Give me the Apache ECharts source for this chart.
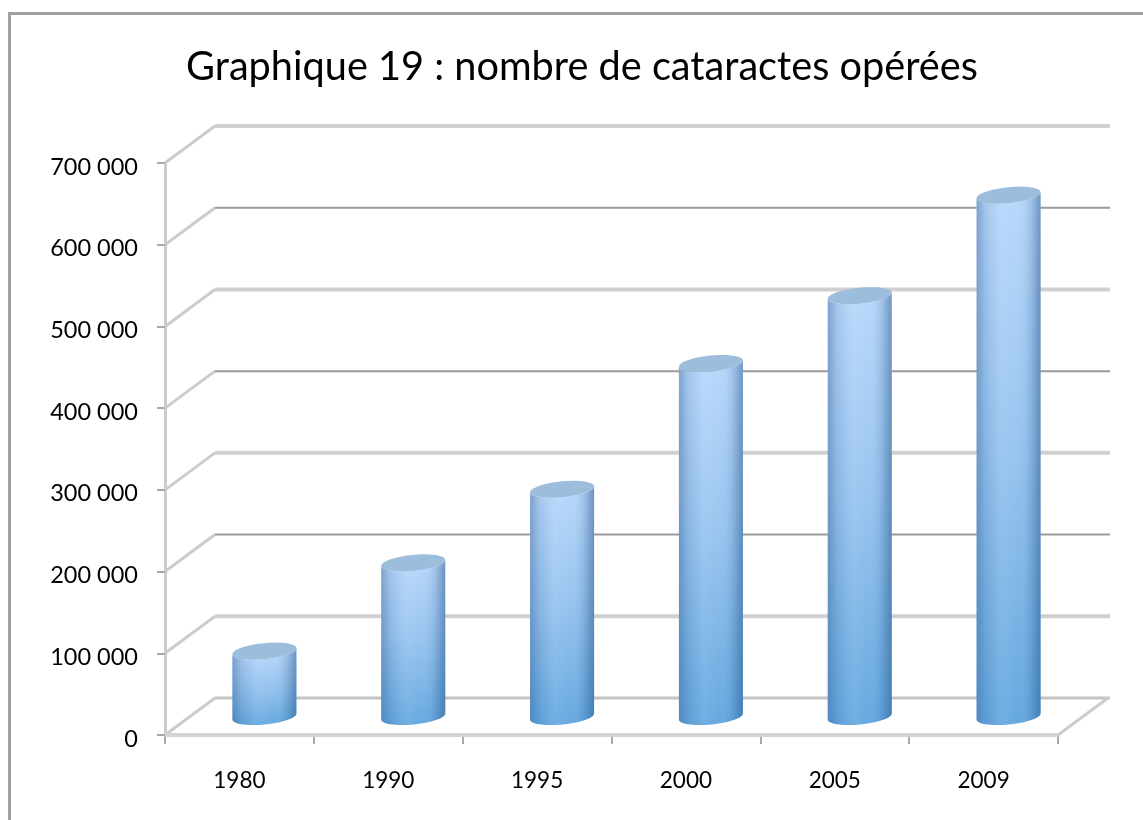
<!DOCTYPE html>
<html><head><meta charset="utf-8">
<style>html,body{margin:0;padding:0;background:#fff}#c{width:1143px;height:820px}</style>
<script src="https://cdn.jsdelivr.net/npm/echarts@6/dist/echarts.min.js"></script>
</head><body><div id="c"></div>
<script>
const titleText = 'Graphique 19 : nombre de cataractes opérées';
const categories = ['1980','1990','1995','2000','2005','2009'];
const operations = [80000,188000,278000,432000,515000,638000];
const gridValues = [0,100000,200000,300000,400000,500000,600000,700000];
const DX = 50, DY = -37;
const chart = echarts.init(document.getElementById('c'));
const font = 'Lato, Carlito, "Open Sans", sans-serif';
function renderGrid(params, api){
  const v = api.value(0);
  const p = api.coord([0, v]);
  const cs = params.coordSys;
  const isLight = Math.round(v/100000)%2===1;
  const style = isLight ? {stroke:'#d0d0d0',lineWidth:4,fill:null} : {stroke:'#9a9a9a',lineWidth:2,fill:null};
  const back = v===0 ? {stroke:'#c4c4c4',lineWidth:3,fill:null} : style;
  return {type:'group',children:[
    {type:'line',shape:{x1:cs.x,y1:p[1],x2:cs.x+DX,y2:p[1]+DY},style:{stroke:'#cccccc',lineWidth:3}},
    {type:'line',shape:{x1:cs.x+DX,y1:p[1]+DY,x2:cs.x+cs.width+DX+2,y2:p[1]+DY},style:back}
  ]};
}
function renderFloor(params, api){
  const cs = params.coordSys;
  const y0 = api.coord([0,0])[1];
  const x1 = cs.x+cs.width;
  return {type:'group',children:[
    {type:'line',shape:{x1:x1,y1:y0,x2:x1+DX,y2:y0+DY},style:{stroke:'#cccccc',lineWidth:3}},
    {type:'line',shape:{x1:cs.x,y1:y0,x2:x1,y2:y0},style:{stroke:'#d4d4d4',lineWidth:4}}
  ]};
}
function renderCyl(params, api){
  const i = api.value(0), v = api.value(1);
  const c0 = api.coord([i,0]), c1 = api.coord([i,v]);
  const w = api.size([1,0])[0]*0.43;
  const xc = c0[0]+DX/2;
  const by = c0[1]+DY/2, ty = c1[1]+DY/2;
  const ry = 8, tilt = -3, N = 32;
  const rim = (k, cy) => {
    const th = Math.PI*k/N, d = -Math.cos(th);
    return [xc+d*w/2, cy+Math.sin(th)*ry+d*tilt];
  };
  const bodyPts = [], capPts = [];
  for(let k=0;k<=N;k++) bodyPts.push(rim(k,ty));
  for(let k=N;k>=0;k--) bodyPts.push(rim(k,by));
  for(let k=0;k<=2*N;k++) capPts.push(rim(k,ty));
  const vert = new echarts.graphic.LinearGradient(0,0,0,1,[
    {offset:0,color:'#b6d6fb'},{offset:0.45,color:'#96c3ef'},{offset:1,color:'#5fa5de'}]);
  const horiz = new echarts.graphic.LinearGradient(0,0,1,0,[
    {offset:0,color:'rgba(60,100,150,0.45)'},
    {offset:0.14,color:'rgba(60,100,150,0.14)'},
    {offset:0.40,color:'rgba(255,255,255,0.10)'},
    {offset:0.65,color:'rgba(255,255,255,0.04)'},
    {offset:0.86,color:'rgba(40,85,135,0.18)'},
    {offset:1,color:'rgba(40,85,135,0.50)'}]);
  return {type:'group',children:[
    {type:'polygon',shape:{points:bodyPts},style:{fill:vert}},
    {type:'polygon',shape:{points:bodyPts},style:{fill:horiz}},
    {type:'polygon',shape:{points:capPts},style:{fill:'#9dbddd'}}
  ]};
}
chart.setOption({
  animation:false,
  backgroundColor:'#fff',
  title:{text:titleText,left:577,top:42,textAlign:'center',
    textStyle:{fontFamily:font,fontSize:39.7,fontWeight:'normal',color:'#000'}},
  grid:{left:165,right:85,top:163,bottom:85},
  graphic:[{type:'rect',silent:true,z:-1,shape:{x:9.5,y:13.5,width:1200,height:900},style:{fill:'none',stroke:'#a0a0a0',lineWidth:3}}],
  xAxis:{type:'category',data:categories,boundaryGap:true,
    axisLine:{show:false},
    axisTick:{show:true,alignWithLabel:false,length:9,lineStyle:{color:'#a8a8a8',width:2}},
    axisLabel:{fontFamily:font,fontSize:22.5,color:'#000',margin:34}},
  yAxis:{type:'value',min:0,max:700000,interval:100000,
    axisLine:{show:true,lineStyle:{color:'#cccccc',width:3}},
    axisTick:{show:true,length:8,lineStyle:{color:'#a8a8a8',width:2}},
    splitLine:{show:false},
    axisLabel:{fontFamily:font,fontSize:23.5,color:'#000',margin:27,verticalAlign:'top',lineHeight:8,
      formatter:v=>String(v).replace(/\B(?=(\d{3})+(?!\d))/g,' ')}},
  series:[
    {type:'custom',z:1,silent:true,clip:false,renderItem:renderGrid,data:gridValues.map(v=>[v]),encode:{y:0}},
    {type:'custom',z:2,silent:true,clip:false,renderItem:renderFloor,data:[[0]],encode:{y:0}},
    {type:'custom',z:3,clip:false,renderItem:renderCyl,data:operations.map((v,i)=>[i,v]),encode:{x:0,y:1}}
  ]
});
</script></body></html>
